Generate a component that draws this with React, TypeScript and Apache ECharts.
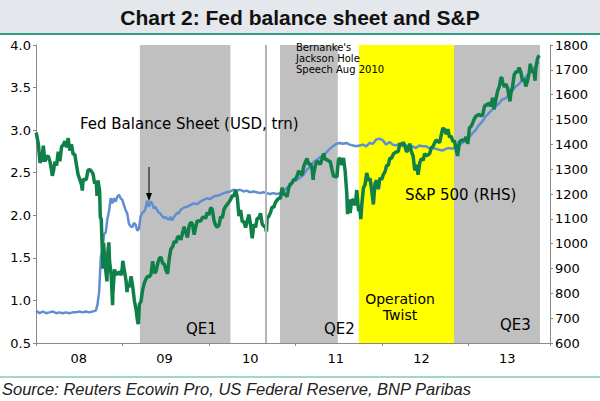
import React, { useEffect, useRef } from "react";
import * as echarts from "echarts";

// S&P 500 index (right axis), weekly closes
const SP500: [string, number][] = [
  ["2008-01-02", 1447], ["2008-01-11", 1401], ["2008-01-18", 1325], ["2008-01-23", 1338], ["2008-01-25", 1330],
  ["2008-02-01", 1395], ["2008-02-08", 1331], ["2008-02-15", 1349], ["2008-02-22", 1353], ["2008-02-29", 1331],
  ["2008-03-07", 1294], ["2008-03-10", 1273], ["2008-03-14", 1288], ["2008-03-21", 1330], ["2008-03-28", 1315],
  ["2008-04-04", 1370], ["2008-04-11", 1332], ["2008-04-18", 1390], ["2008-04-25", 1397], ["2008-05-02", 1413],
  ["2008-05-09", 1388], ["2008-05-16", 1425], ["2008-05-23", 1375], ["2008-05-30", 1400], ["2008-06-06", 1360],
  ["2008-06-13", 1360], ["2008-06-20", 1318], ["2008-06-27", 1278], ["2008-07-03", 1262], ["2008-07-11", 1239],
  ["2008-07-15", 1214], ["2008-07-18", 1260], ["2008-07-25", 1257], ["2008-08-01", 1260], ["2008-08-08", 1296],
  ["2008-08-15", 1298], ["2008-08-22", 1292], ["2008-08-29", 1282], ["2008-09-05", 1242], ["2008-09-12", 1251],
  ["2008-09-15", 1192], ["2008-09-19", 1255], ["2008-09-26", 1213], ["2008-09-29", 1106], ["2008-10-03", 1099],
  ["2008-10-10", 899], ["2008-10-13", 1003], ["2008-10-17", 940], ["2008-10-24", 876], ["2008-10-27", 848],
  ["2008-10-31", 968], ["2008-11-04", 1005], ["2008-11-07", 930], ["2008-11-14", 873], ["2008-11-20", 752],
  ["2008-11-21", 800], ["2008-11-28", 896], ["2008-12-05", 876], ["2008-12-12", 879], ["2008-12-19", 887],
  ["2008-12-26", 873], ["2008-12-31", 903],
  ["2009-01-02", 931], ["2009-01-09", 890], ["2009-01-16", 850], ["2009-01-20", 805], ["2009-01-23", 832],
  ["2009-01-30", 826], ["2009-02-06", 869], ["2009-02-13", 827], ["2009-02-20", 770], ["2009-02-27", 735],
  ["2009-03-06", 683], ["2009-03-09", 677], ["2009-03-13", 756], ["2009-03-20", 768], ["2009-03-27", 815],
  ["2009-04-03", 842], ["2009-04-09", 856], ["2009-04-17", 869], ["2009-04-24", 866], ["2009-05-01", 877],
  ["2009-05-08", 929], ["2009-05-15", 882], ["2009-05-22", 887], ["2009-05-29", 919], ["2009-06-05", 940],
  ["2009-06-12", 946], ["2009-06-19", 921], ["2009-06-26", 918], ["2009-07-02", 896], ["2009-07-10", 879],
  ["2009-07-17", 940], ["2009-07-24", 979], ["2009-07-31", 987], ["2009-08-07", 1010], ["2009-08-14", 1004],
  ["2009-08-21", 1026], ["2009-08-28", 1029], ["2009-09-04", 1016], ["2009-09-11", 1042], ["2009-09-18", 1068],
  ["2009-09-25", 1044], ["2009-10-02", 1025], ["2009-10-09", 1071], ["2009-10-16", 1087], ["2009-10-23", 1079],
  ["2009-10-30", 1036], ["2009-11-06", 1069], ["2009-11-13", 1093], ["2009-11-20", 1091], ["2009-11-27", 1091],
  ["2009-12-04", 1106], ["2009-12-11", 1106], ["2009-12-18", 1102], ["2009-12-24", 1126], ["2009-12-31", 1115],
  ["2010-01-08", 1145], ["2010-01-15", 1136], ["2010-01-22", 1092], ["2010-01-29", 1074], ["2010-02-05", 1066],
  ["2010-02-12", 1075], ["2010-02-19", 1109], ["2010-02-26", 1104], ["2010-03-05", 1138], ["2010-03-12", 1150],
  ["2010-03-19", 1159], ["2010-03-26", 1167], ["2010-04-02", 1178], ["2010-04-09", 1194], ["2010-04-16", 1192],
  ["2010-04-23", 1217], ["2010-04-30", 1187], ["2010-05-07", 1111], ["2010-05-14", 1136], ["2010-05-21", 1088],
  ["2010-05-28", 1089], ["2010-06-04", 1065], ["2010-06-11", 1092], ["2010-06-18", 1117], ["2010-06-25", 1076],
  ["2010-07-02", 1022], ["2010-07-09", 1078], ["2010-07-16", 1065], ["2010-07-23", 1102], ["2010-07-30", 1102],
  ["2010-08-06", 1122], ["2010-08-13", 1079], ["2010-08-20", 1071], ["2010-08-27", 1065], ["2010-08-31", 1049],
  ["2010-09-03", 1104], ["2010-09-10", 1110], ["2010-09-17", 1125], ["2010-09-24", 1148], ["2010-10-01", 1146],
  ["2010-10-08", 1166], ["2010-10-15", 1176], ["2010-10-22", 1183], ["2010-10-29", 1183], ["2010-11-05", 1225],
  ["2010-11-12", 1199], ["2010-11-19", 1199], ["2010-11-26", 1189], ["2010-12-03", 1225], ["2010-12-10", 1240],
  ["2010-12-17", 1244], ["2010-12-23", 1257], ["2010-12-31", 1258],
  ["2011-01-07", 1272], ["2011-01-14", 1293], ["2011-01-21", 1283], ["2011-01-28", 1276], ["2011-02-04", 1310],
  ["2011-02-11", 1329], ["2011-02-18", 1343], ["2011-02-25", 1320], ["2011-03-04", 1321], ["2011-03-11", 1304],
  ["2011-03-16", 1257], ["2011-03-18", 1279], ["2011-03-25", 1313], ["2011-04-01", 1332], ["2011-04-08", 1328],
  ["2011-04-15", 1319], ["2011-04-21", 1337], ["2011-04-29", 1363], ["2011-05-06", 1340], ["2011-05-13", 1338],
  ["2011-05-20", 1333], ["2011-05-27", 1331], ["2011-06-03", 1300], ["2011-06-10", 1271], ["2011-06-17", 1271],
  ["2011-06-24", 1268], ["2011-07-01", 1339], ["2011-07-08", 1344], ["2011-07-15", 1316], ["2011-07-22", 1345],
  ["2011-07-29", 1292], ["2011-08-05", 1199], ["2011-08-08", 1119], ["2011-08-12", 1178], ["2011-08-19", 1123],
  ["2011-08-26", 1177], ["2011-09-02", 1174], ["2011-09-09", 1154], ["2011-09-16", 1216], ["2011-09-23", 1136],
  ["2011-09-30", 1131], ["2011-10-03", 1099], ["2011-10-07", 1155], ["2011-10-14", 1224], ["2011-10-21", 1238],
  ["2011-10-28", 1285], ["2011-11-04", 1253], ["2011-11-11", 1263], ["2011-11-18", 1215], ["2011-11-25", 1158],
  ["2011-12-02", 1244], ["2011-12-09", 1255], ["2011-12-16", 1219], ["2011-12-23", 1265], ["2011-12-30", 1258],
  ["2012-01-06", 1278], ["2012-01-13", 1289], ["2012-01-20", 1315], ["2012-01-27", 1316], ["2012-02-03", 1345],
  ["2012-02-10", 1343], ["2012-02-17", 1361], ["2012-02-24", 1366], ["2012-03-02", 1370], ["2012-03-09", 1370],
  ["2012-03-16", 1404], ["2012-03-23", 1397], ["2012-03-30", 1408], ["2012-04-05", 1398], ["2012-04-13", 1370],
  ["2012-04-20", 1378], ["2012-04-27", 1403], ["2012-05-04", 1369], ["2012-05-11", 1353], ["2012-05-18", 1295],
  ["2012-05-25", 1318], ["2012-06-01", 1278], ["2012-06-08", 1325], ["2012-06-15", 1343], ["2012-06-22", 1335],
  ["2012-06-29", 1362], ["2012-07-06", 1355], ["2012-07-13", 1357], ["2012-07-20", 1363], ["2012-07-27", 1386],
  ["2012-08-03", 1391], ["2012-08-10", 1406], ["2012-08-17", 1418], ["2012-08-24", 1411], ["2012-08-31", 1407],
  ["2012-09-07", 1438], ["2012-09-14", 1466], ["2012-09-21", 1460], ["2012-09-28", 1441], ["2012-10-05", 1461],
  ["2012-10-12", 1428], ["2012-10-19", 1433], ["2012-10-26", 1412], ["2012-11-02", 1414], ["2012-11-09", 1380],
  ["2012-11-15", 1353], ["2012-11-16", 1360], ["2012-11-23", 1409], ["2012-11-30", 1416], ["2012-12-07", 1418],
  ["2012-12-14", 1413], ["2012-12-21", 1430], ["2012-12-28", 1402], ["2012-12-31", 1426],
  ["2013-01-04", 1466], ["2013-01-11", 1472], ["2013-01-18", 1486], ["2013-01-25", 1503], ["2013-02-01", 1513],
  ["2013-02-08", 1518], ["2013-02-15", 1520], ["2013-02-22", 1515], ["2013-03-01", 1518], ["2013-03-08", 1551],
  ["2013-03-15", 1560], ["2013-03-22", 1556], ["2013-03-28", 1569], ["2013-04-05", 1553], ["2013-04-12", 1588],
  ["2013-04-18", 1541], ["2013-04-26", 1582], ["2013-05-03", 1614], ["2013-05-10", 1633], ["2013-05-17", 1667],
  ["2013-05-21", 1669], ["2013-05-24", 1650], ["2013-05-31", 1631], ["2013-06-07", 1643], ["2013-06-14", 1626],
  ["2013-06-21", 1592], ["2013-06-24", 1573], ["2013-06-28", 1606], ["2013-07-05", 1632], ["2013-07-12", 1680],
  ["2013-07-19", 1692], ["2013-07-26", 1691], ["2013-08-02", 1709], ["2013-08-09", 1691], ["2013-08-16", 1655],
  ["2013-08-23", 1664], ["2013-08-30", 1633], ["2013-09-06", 1655], ["2013-09-13", 1688], ["2013-09-18", 1725],
  ["2013-09-20", 1710], ["2013-09-27", 1692], ["2013-10-04", 1690], ["2013-10-08", 1656], ["2013-10-11", 1703],
  ["2013-10-18", 1745], ["2013-10-25", 1759],
];

// Fed balance sheet, USD trn (left axis)
const FED_BS: [string, number][] = [
  ["2008-01-02", 0.88], ["2008-01-16", 0.85], ["2008-01-30", 0.87], ["2008-02-13", 0.85], ["2008-02-27", 0.86],
  ["2008-03-12", 0.87], ["2008-03-26", 0.85], ["2008-04-09", 0.86], ["2008-04-23", 0.85], ["2008-05-07", 0.86],
  ["2008-05-21", 0.85], ["2008-06-04", 0.86], ["2008-06-18", 0.86], ["2008-07-02", 0.87], ["2008-07-16", 0.86],
  ["2008-07-30", 0.87], ["2008-08-13", 0.86], ["2008-08-27", 0.87], ["2008-09-10", 0.88], ["2008-09-17", 0.95],
  ["2008-09-24", 1.10], ["2008-10-01", 1.50], ["2008-10-08", 1.60], ["2008-10-15", 1.78], ["2008-10-22", 1.80],
  ["2008-10-29", 1.96], ["2008-11-05", 2.05], ["2008-11-12", 2.20], ["2008-11-19", 2.14], ["2008-11-26", 2.20],
  ["2008-12-03", 2.16], ["2008-12-10", 2.22], ["2008-12-17", 2.24], ["2008-12-24", 2.20], ["2008-12-31", 2.18],
  ["2009-01-07", 2.12], ["2009-01-14", 2.06], ["2009-01-21", 2.02], ["2009-01-28", 1.90], ["2009-02-04", 1.87],
  ["2009-02-11", 1.86], ["2009-02-18", 1.91], ["2009-02-25", 1.89], ["2009-03-04", 1.82], ["2009-03-11", 1.84],
  ["2009-03-18", 1.98], ["2009-03-25", 2.03], ["2009-04-01", 2.04], ["2009-04-08", 2.08], ["2009-04-15", 2.17],
  ["2009-04-22", 2.10], ["2009-04-29", 2.16], ["2009-05-06", 2.14], ["2009-05-13", 2.08], ["2009-05-20", 2.10],
  ["2009-05-27", 2.06], ["2009-06-03", 2.03], ["2009-06-10", 2.02], ["2009-06-17", 1.99], ["2009-06-24", 1.97],
  ["2009-07-01", 1.98], ["2009-07-08", 1.96], ["2009-07-15", 1.95], ["2009-07-22", 1.98], ["2009-07-29", 1.94],
  ["2009-08-05", 1.98], ["2009-08-12", 2.00], ["2009-08-19", 2.03], ["2009-08-26", 2.02], ["2009-09-02", 2.06],
  ["2009-09-16", 2.09], ["2009-09-30", 2.10], ["2009-10-14", 2.12], ["2009-10-28", 2.14], ["2009-11-11", 2.13],
  ["2009-11-25", 2.16], ["2009-12-09", 2.18], ["2009-12-23", 2.20], ["2010-01-06", 2.19], ["2010-01-20", 2.22],
  ["2010-02-03", 2.23], ["2010-02-17", 2.24], ["2010-03-03", 2.26], ["2010-03-17", 2.27], ["2010-03-31", 2.28],
  ["2010-04-14", 2.30], ["2010-04-28", 2.29], ["2010-05-12", 2.30], ["2010-05-26", 2.28], ["2010-06-09", 2.29],
  ["2010-06-23", 2.27], ["2010-07-07", 2.28], ["2010-07-21", 2.27], ["2010-08-04", 2.26], ["2010-08-18", 2.27],
  ["2010-09-01", 2.26], ["2010-09-15", 2.25], ["2010-09-29", 2.26], ["2010-10-13", 2.25], ["2010-10-27", 2.26],
  ["2010-11-10", 2.28], ["2010-11-24", 2.32], ["2010-12-08", 2.34], ["2010-12-22", 2.40], ["2011-01-05", 2.41],
  ["2011-01-19", 2.44], ["2011-02-02", 2.47], ["2011-02-16", 2.53], ["2011-03-02", 2.57], ["2011-03-16", 2.62],
  ["2011-03-30", 2.65], ["2011-04-13", 2.68], ["2011-04-27", 2.70], ["2011-05-11", 2.74], ["2011-05-25", 2.78],
  ["2011-06-08", 2.81], ["2011-06-22", 2.84], ["2011-07-06", 2.85], ["2011-07-20", 2.84], ["2011-08-03", 2.85],
  ["2011-08-17", 2.83], ["2011-08-31", 2.82], ["2011-09-14", 2.81], ["2011-09-28", 2.82], ["2011-10-12", 2.83],
  ["2011-10-26", 2.81], ["2011-11-09", 2.85], ["2011-11-23", 2.84], ["2011-12-07", 2.89], ["2011-12-21", 2.90],
  ["2012-01-04", 2.88], ["2012-01-18", 2.83], ["2012-02-01", 2.86], ["2012-02-15", 2.83], ["2012-02-29", 2.82],
  ["2012-03-14", 2.84], ["2012-03-28", 2.81], ["2012-04-11", 2.82], ["2012-04-25", 2.80], ["2012-05-09", 2.81],
  ["2012-05-23", 2.79], ["2012-06-06", 2.82], ["2012-06-20", 2.81], ["2012-07-04", 2.81], ["2012-07-18", 2.79],
  ["2012-08-01", 2.79], ["2012-08-15", 2.78], ["2012-08-29", 2.77], ["2012-09-12", 2.76], ["2012-09-26", 2.78],
  ["2012-10-10", 2.79], ["2012-10-24", 2.78], ["2012-11-07", 2.81], ["2012-11-21", 2.83], ["2012-12-05", 2.85],
  ["2012-12-19", 2.88], ["2013-01-02", 2.91], ["2013-01-16", 2.96], ["2013-01-30", 3.00], ["2013-02-13", 3.06],
  ["2013-02-27", 3.10], ["2013-03-13", 3.16], ["2013-03-27", 3.20], ["2013-04-10", 3.24], ["2013-04-24", 3.28],
  ["2013-05-08", 3.31], ["2013-05-22", 3.36], ["2013-06-05", 3.37], ["2013-06-19", 3.42], ["2013-07-03", 3.46],
  ["2013-07-17", 3.51], ["2013-07-31", 3.54], ["2013-08-14", 3.58], ["2013-08-28", 3.62], ["2013-09-11", 3.66],
  ["2013-09-25", 3.71], ["2013-10-09", 3.75], ["2013-10-23", 3.80],
];

const YEAR_LABELS = ["08", "09", "10", "11", "12", "13"];
const X_START = "2008-01-01";
const X_END = "2013-12-10";

// Shaded policy periods: QE1, QE2, Operation Twist, QE3
const SHADE_PERIODS: [string, string][] = [
  ["2009-03-15", "2010-04-01"],
  ["2010-10-27", "2011-06-28"],
  ["2011-09-25", "2012-10-31"],
  ["2012-10-31", "2013-10-29"],
];
const SPEECH_DATE = "2010-08-27";

const TITLE = "Chart 2: Fed balance sheet and S&P";
const SOURCE = "Source: Reuters Ecowin Pro, US Federal Reserve, BNP Paribas";

function toYear(s: string): number {
  const [y, m, d] = s.split("-").map(Number);
  const start = Date.UTC(y, 0, 1);
  const end = Date.UTC(y + 1, 0, 1);
  return y + (Date.UTC(y, m - 1, d) - start) / (end - start);
}

const GRAY = "#c0c0c0";
const YELLOW = "#ffff00";
const SHADE_COLORS = [GRAY, GRAY, YELLOW, GRAY];
const AXIS_COLOR = "#8a8a8a";
const FONT = "'DejaVu Sans', Arial, sans-serif";
const AFONT = "'Liberation Sans', Arial, sans-serif";

export default function App() {
  const ref = useRef<HTMLDivElement>(null);
  useEffect(() => {
    if (!ref.current) return;
    const chart = echarts.init(ref.current, undefined, { renderer: "svg" });
    const option: any = {
      animation: false,
      backgroundColor: "#ffffff",
      grid: { left: 36, right: 50, top: 45, bottom: 58 },
      xAxis: [
        {
          type: "value",
          min: toYear(X_START),
          max: toYear(X_END),
          interval: 1,
          axisLine: { show: true, lineStyle: { color: AXIS_COLOR, width: 1 } },
          axisTick: { show: true, length: 3, lineStyle: { color: AXIS_COLOR } },
          axisLabel: { show: false },
          splitLine: { show: false },
        },
        {
          type: "category",
          data: YEAR_LABELS,
          position: "bottom",
          boundaryGap: true,
          axisLine: { show: false },
          axisTick: { show: false },
          axisLabel: { color: "#000", fontSize: 13, fontFamily: FONT, margin: 9 },
          splitLine: { show: false },
        },
      ],
      yAxis: [
        {
          type: "value",
          min: 0.5,
          max: 4.0,
          interval: 0.5,
          position: "left",
          axisLine: { show: true, lineStyle: { color: AXIS_COLOR } },
          axisTick: { show: true, length: 3, lineStyle: { color: AXIS_COLOR } },
          axisLabel: { color: "#000", fontSize: 13, fontFamily: FONT, margin: 5, formatter: (v: number) => v.toFixed(1) },
          splitLine: { show: false },
        },
        {
          type: "value",
          min: 600,
          max: 1800,
          interval: 100,
          position: "right",
          axisLine: { show: true, lineStyle: { color: AXIS_COLOR } },
          axisTick: { show: true, length: 3, lineStyle: { color: AXIS_COLOR } },
          axisLabel: { color: "#000", fontSize: 13, fontFamily: FONT, margin: 5, formatter: (v: number) => String(v) },
          splitLine: { show: false },
        },
      ],
      series: [
        {
          name: "Fed Balance Sheet",
          type: "line",
          xAxisIndex: 0,
          yAxisIndex: 0,
          data: FED_BS.map(([d, v]) => [toYear(d), v]),
          showSymbol: false,
          lineStyle: { color: "#5f8fd3", width: 2.5 },
          z: 3,
          markArea: {
            silent: true,
            data: SHADE_PERIODS.map(([a, b], i) => [
              { xAxis: toYear(a), itemStyle: { color: SHADE_COLORS[i] } },
              { xAxis: toYear(b) },
            ]),
          },
          markLine: {
            silent: true,
            symbol: "none",
            label: { show: false },
            lineStyle: { color: "#b4b4b4", width: 2, type: "solid" },
            data: [{ xAxis: toYear(SPEECH_DATE) }],
          },
        },
        {
          name: "S&P 500",
          type: "line",
          xAxisIndex: 0,
          yAxisIndex: 1,
          data: SP500.map(([d, v]) => [toYear(d), v]),
          showSymbol: false,
          lineStyle: { color: "#10804a", width: 3.5 },
          z: 4,
        },
      ],
      graphic: [
        { type: "rect", shape: { x: 0, y: 0, width: 600, height: 33 }, style: { fill: "#e4e7ec" }, z: 0 },
        { type: "rect", shape: { x: 0, y: 33, width: 600, height: 2 }, style: { fill: "#2f9f88" }, z: 0 },
        {
          type: "text", x: 300, y: 17,
          style: { text: TITLE, font: `bold 21px ${AFONT}`, fill: "#111", textAlign: "center", textVerticalAlign: "middle" },
        },
        { type: "rect", shape: { x: 0, y: 376, width: 600, height: 2 }, style: { fill: "#a3d6c6" } },
        {
          type: "text", x: 2, y: 389,
          style: { text: SOURCE, font: `italic 16.5px ${AFONT}`, fill: "#222", textVerticalAlign: "middle" },
        },
        {
          type: "text", x: 80, y: 124, z: 10,
          style: { text: "Fed Balance Sheet (USD, trn)", font: `15px ${FONT}`, fill: "#000", textVerticalAlign: "middle" },
        },
        {
          type: "text", x: 296, y: 42, z: 10,
          style: { text: "Bernanke's\nJackson Hole\nSpeech Aug 2010", font: `10px ${FONT}`, lineHeight: 11, fill: "#000" },
        },
        {
          type: "text", x: 405, y: 195, z: 10,
          style: { text: "S&P 500 (RHS)", font: `15px ${FONT}`, fill: "#000", textVerticalAlign: "middle" },
        },
        {
          type: "text", x: 186, y: 329, z: 10,
          style: { text: "QE1", font: `15px ${FONT}`, fill: "#000", textVerticalAlign: "middle" },
        },
        {
          type: "text", x: 324, y: 329, z: 10,
          style: { text: "QE2", font: `15px ${FONT}`, fill: "#000", textVerticalAlign: "middle" },
        },
        {
          type: "text", x: 400, y: 299, z: 10,
          style: { text: "Operation", font: `14px ${FONT}`, fill: "#000", textAlign: "center", textVerticalAlign: "middle" },
        },
        {
          type: "text", x: 400, y: 315, z: 10,
          style: { text: "Twist", font: `14px ${FONT}`, fill: "#000", textAlign: "center", textVerticalAlign: "middle" },
        },
        {
          type: "text", x: 500, y: 325, z: 10,
          style: { text: "QE3", font: `15px ${FONT}`, fill: "#000", textVerticalAlign: "middle" },
        },
        { type: "line", shape: { x1: 149, y1: 167, x2: 149, y2: 196 }, style: { stroke: "#000", lineWidth: 1 }, z: 10 },
        { type: "polygon", shape: { points: [[146, 193], [152, 193], [149, 201]] }, style: { fill: "#000" }, z: 10 },
      ],
    };
    chart.setOption(option);
    return () => chart.dispose();
  }, []);
  return (
    <div
      ref={ref}
      style={{ position: "absolute", left: 0, top: 0, width: 600, height: 401 }}
    />
  );
}
